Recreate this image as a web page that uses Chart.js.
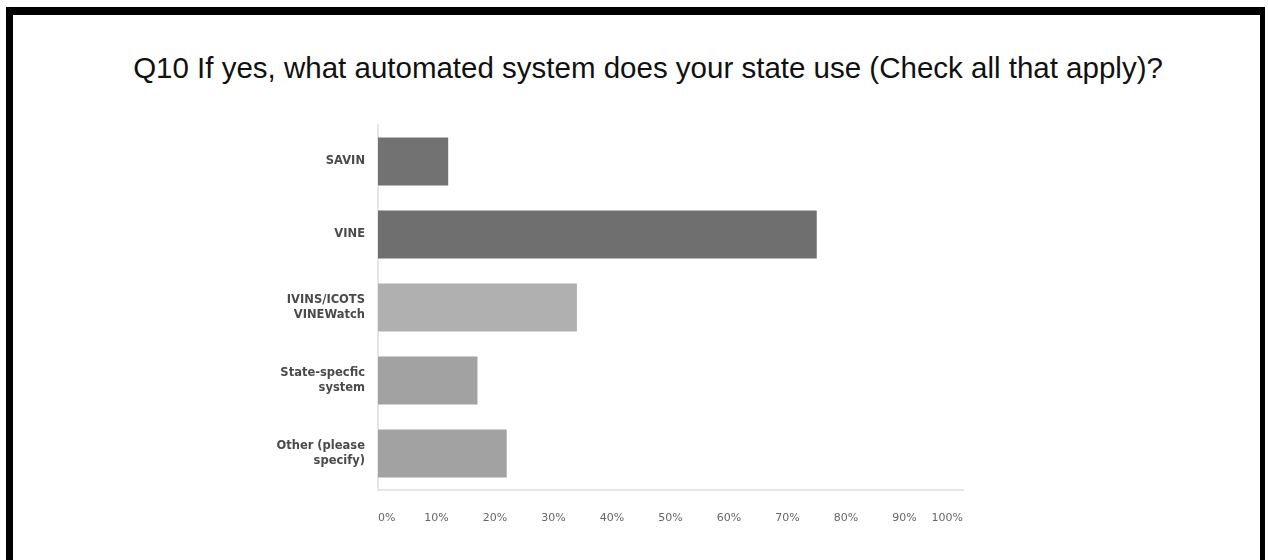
<!DOCTYPE html>
<html>
<head>
<meta charset="utf-8">
<script src="https://cdn.jsdelivr.net/npm/chart.js@4/dist/chart.umd.min.js"></script>
<style>
  html, body { margin: 0; padding: 0; background: #fff; }
  body { width: 1268px; height: 560px; position: relative; overflow: hidden; }
  #frame {
    position: absolute; left: 6px; top: 7px; width: 1247px; height: 548px;
    border-left: 7px solid #000; border-top: 8px solid #000;
    border-right: 5px solid #000; border-bottom: 2px solid #222;
  }
  #title {
    position: absolute; left: 0; top: 51px; width: 1296px; text-align: center;
    font-family: "Liberation Sans", Arial, sans-serif; font-size: 29.5px; color: #111;
    white-space: nowrap;
  }
  #wrap { position: absolute; left: 0; top: 0; width: 1268px; height: 560px; }
</style>
</head>
<body>
<div id="frame"></div>
<div id="title">Q10 If yes, what automated system does your state use (Check all that apply)?</div>
<div id="wrap"><canvas id="chart"></canvas></div>
<script>
  // 응답 항목 / 비율(%)
  const categories = [
    'SAVIN',
    'VINE',
    ['IVINS/ICOTS', 'VINEWatch'],
    ['State-specfic', 'system'],
    ['Other (please', 'specify)'],
  ];
  const percents  = [12, 75, 34, 17, 22];
  const barColors = ['#727272', '#6f6f6f', '#b0b0b0', '#a2a2a2', '#a2a2a2'];
  const xTicks    = [0, 10, 20, 30, 40, 50, 60, 70, 80, 90, 100];

  const AXIS_COLOR  = '#e6e6e6';
  const LABEL_COLOR = '#666';
  const CAT_COLOR   = '#4a4a4a';

  new Chart(document.getElementById('chart'), {
    type: 'bar',
    data: {
      labels: categories,
      datasets: [{
        data:               percents,
        backgroundColor:    barColors,
        borderWidth:        0,
        categoryPercentage: 0.66,
        barPercentage:      1.0,
      }],
    },
    options: {
      indexAxis:           'y',
      responsive:          true,
      maintainAspectRatio: false,
      animation:           false,
      layout: { padding: { top: 125, right: 305, bottom: 0, left: 0 } },
      plugins: {
        legend:  { display: false },
        tooltip: { enabled: false },
      },
      scales: {
        x: {
          min: 0,
          max: 100,
          afterBuildTicks: s => { s.ticks = xTicks.map(v => ({ value: v })); },
          afterFit: s => { s.height = 70; },
          ticks: {
            color:    LABEL_COLOR,
            font:     { family: 'DejaVu Sans', size: 11 },
            padding:  22,
            align:    'inner',
            callback: v => v + '%',
          },
          grid:   { display: false, drawTicks: false },
          border: { display: true, color: AXIS_COLOR, width: 2 },
        },
        y: {
          afterFit: s => { s.width = 378; },
          ticks: {
            color:   CAT_COLOR,
            font:    { family: 'DejaVu Sans', size: 11.5, weight: 'bold', lineHeight: 1.35 },
            padding: 13,
          },
          grid:   { display: false, drawTicks: false },
          border: { display: true, color: AXIS_COLOR, width: 2 },
        },
      },
    },
  });
</script>
</body>
</html>
